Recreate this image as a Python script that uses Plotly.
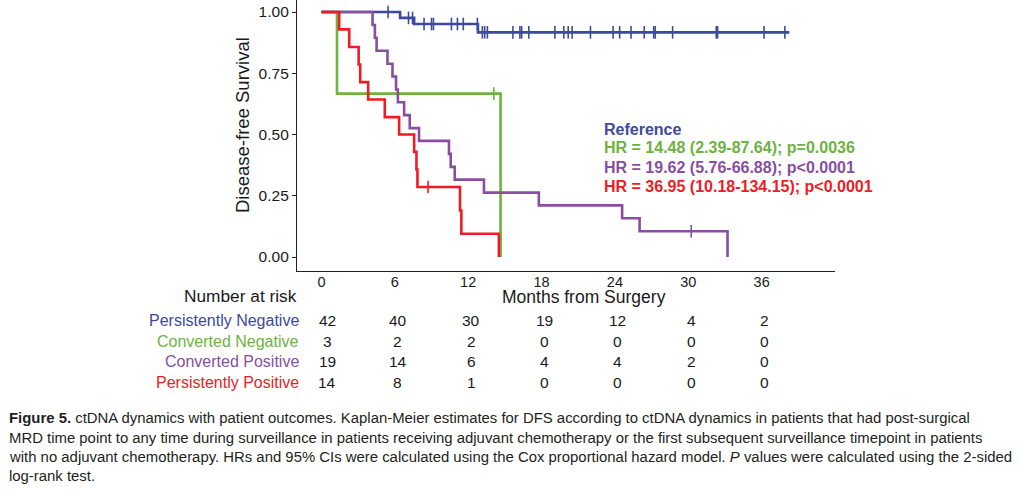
import plotly.graph_objects as go
import numpy as np

# ---------------- data ----------------
groups = ["Persistently Negative", "Converted Negative", "Converted Positive", "Persistently Positive"]
colors = ["#3D4A9C", "#6CB33F", "#8A4E9F", "#EE1C24"]

# step curves: times where survival changes, and survival after each change
neg_t = [0, 6.43, 7.58, 12.8, 38.27]
neg_s = [1.0, 0.976, 0.951, 0.917, 0.917]
neg_cens = [5.45, 7.12, 7.45, 8.39, 9.0, 9.16, 10.63, 11.12, 11.6, 12.75, 13.16, 13.35, 13.57,
            15.66, 16.23, 16.37, 16.96, 19.09, 19.82, 20.18, 20.5, 22.0, 23.85, 24.39, 25.32,
            26.4, 27.17, 27.3, 28.72, 32.29, 32.4, 36.2, 37.9]

cneg_t = [0, 1.27, 14.65]
cneg_s = [1.0, 0.667, 0.0]
cneg_cens = [14.1]

cpos_t = [0, 4.18, 4.37, 4.51, 5.4, 5.81, 6.1, 6.25, 6.76, 7.22, 7.98, 10.43, 10.57, 10.9,
          13.29, 17.78, 24.59, 26.02, 33.21]
cpos_s = [1.0, 0.947, 0.895, 0.842, 0.789, 0.737, 0.684, 0.632, 0.579, 0.526, 0.474, 0.421,
          0.368, 0.316, 0.263, 0.211, 0.158, 0.105, 0.0]
cpos_cens = [30.24]

ppos_t = [0, 1.45, 2.27, 3.04, 3.17, 3.82, 5.18, 6.35, 7.58, 7.77, 7.85, 11.33, 11.44, 14.51]
ppos_s = [1.0, 0.929, 0.857, 0.786, 0.714, 0.643, 0.571, 0.5, 0.429, 0.357, 0.286, 0.19,
          0.095, 0.0]
ppos_cens = [8.72]

curves = [(neg_t, neg_s, neg_cens), (cneg_t, cneg_s, cneg_cens),
          (cpos_t, cpos_s, cpos_cens), (ppos_t, ppos_s, ppos_cens)]

risk_times = [0, 6, 12, 18, 24, 30, 36]
risk_neg = [42, 40, 30, 19, 12, 4, 2]
risk_cneg = [3, 2, 2, 0, 0, 0, 0]
risk_cpos = [19, 14, 6, 4, 4, 2, 0]
risk_ppos = [14, 8, 1, 0, 0, 0, 0]
risk_rows = [risk_neg, risk_cneg, risk_cpos, risk_ppos]

hr_texts = ["Reference",
            "HR = 14.48 (2.39-87.64); p=0.0036",
            "HR = 19.62 (5.76-66.88); p<0.0001",
            "HR = 36.95 (10.18-134.15); p<0.0001"]

y_ticks = [0, 0.25, 0.5, 0.75, 1.0]
y_ticklabels = ["0.00", "0.25", "0.50", "0.75", "1.00"]
x_ticks = [0, 6, 12, 18, 24, 30, 36]

caption_lines = [
    "<b>Figure 5.</b> ctDNA dynamics with patient outcomes. Kaplan-Meier estimates for DFS according to ctDNA dynamics in patients that had post-surgical",
    "MRD time point to any time during surveillance in patients receiving adjuvant chemotherapy or the first subsequent surveillance timepoint in patients",
    "with no adjuvant chemotherapy. HRs and 95% CIs were calculated using the Cox proportional hazard model. <i>P</i> values were calculated using the 2-sided",
    "log-rank test.",
]

# ---------------- layout geometry (pixels) ----------------
W, H = 1021, 495
PL, PR, PT, PB = 297, 835, 0, 271
FONT = "Liberation Sans, Arial, Helvetica, sans-serif"
INK = "#1a1a1a"


def px_x(px):
    return (px - PL) / (PR - PL)


def px_y(py):
    return (PB - py) / (PB - PT)


fig = go.Figure()

for (t, s, cens), name, col in zip(curves, groups, colors):
    fig.add_trace(go.Scatter(x=t, y=s, mode="lines", line=dict(color=col, width=2.6, shape="hv"),
                             name=name, showlegend=False, hoverinfo="skip"))
    # survival at censor times from the step function
    idx = np.searchsorted(np.array(t), np.array(cens), side="right") - 1
    cs = [s[i] for i in idx]
    fig.add_trace(go.Scatter(x=cens, y=cs, mode="markers",
                             marker=dict(symbol="line-ns-open", size=9, color=col,
                                         line=dict(color=col, width=1.6)),
                             showlegend=False, hoverinfo="skip"))

annotations = []

# y-axis title
annotations.append(dict(x=px_x(243), y=px_y(125), xref="paper", yref="paper",
                        text="Disease-free Survival", showarrow=False, textangle=-90,
                        xanchor="center", yanchor="middle",
                        font=dict(family=FONT, size=18.5, color=INK)))

# HR text
for i, (txt, col) in enumerate(zip(hr_texts, colors)):
    annotations.append(dict(x=px_x(602), y=px_y(129 + 19 * i), xref="paper", yref="paper",
                            text="<b>" + txt + "</b>", showarrow=False, xanchor="left",
                            yanchor="middle", font=dict(family=FONT, size=16, color=col)))

# x-axis title
annotations.append(dict(x=px_x(584), y=px_y(297), xref="paper", yref="paper",
                        text="Months from Surgery", showarrow=False, xanchor="center",
                        yanchor="middle", font=dict(family=FONT, size=17.5, color=INK)))

# risk table
annotations.append(dict(x=px_x(299), y=px_y(296), xref="paper", yref="paper",
                        text="Number at risk", showarrow=False, xanchor="right",
                        yanchor="middle", font=dict(family=FONT, size=17.3, color=INK)))
row_y = [320, 341, 361, 382]
for name, col, ry, row in zip(groups, colors, row_y, risk_rows):
    annotations.append(dict(x=px_x(301), y=px_y(ry), xref="paper", yref="paper",
                            text=name, showarrow=False, xanchor="right", yanchor="middle",
                            font=dict(family=FONT, size=16, color=col)))
    for tt, n in zip(risk_times, row):
        annotations.append(dict(x=tt, y=px_y(ry), xref="x", yref="paper", text=str(n),
                                showarrow=False, xanchor="center", yanchor="middle",
                                xshift=6 if tt == 0 else 3,
                                font=dict(family=FONT, size=15.5, color=INK)))

# caption
cap_y = [418, 438, 457, 476]
for line, cy in zip(caption_lines, cap_y):
    annotations.append(dict(x=px_x(7), y=px_y(cy), xref="paper", yref="paper", text=line,
                            showarrow=False, xanchor="left", yanchor="middle",
                            font=dict(family=FONT, size=14.9, color="#231f20")))

fig.update_layout(
    width=W, height=H,
    margin=dict(l=PL, r=W - PR, t=PT, b=H - PB, pad=0, autoexpand=False),
    paper_bgcolor="white", plot_bgcolor="white",
    annotations=annotations,
    showlegend=False,
)
fig.update_xaxes(range=[-2, 42], tickvals=x_ticks, ticktext=[str(v) for v in x_ticks],
                 showgrid=False, zeroline=False, showline=True, linecolor="#222",
                 linewidth=1.3, ticks="", tickfont=dict(family=FONT, size=14.5, color=INK),
                 ticklabelstandoff=-3, automargin=False)
fig.update_yaxes(range=[-0.057, 1.049], tickvals=y_ticks, ticktext=y_ticklabels,
                 showgrid=False, zeroline=False, showline=True, linecolor="#222",
                 linewidth=1.3, ticks="outside", ticklen=4, tickcolor="#222",
                 tickfont=dict(family=FONT, size=15.5, color=INK), automargin=False)

fig.write_html("out.html", config={"displayModeBar": False},
               post_script="document.body.style.margin='0';document.body.style.overflow='hidden';")
